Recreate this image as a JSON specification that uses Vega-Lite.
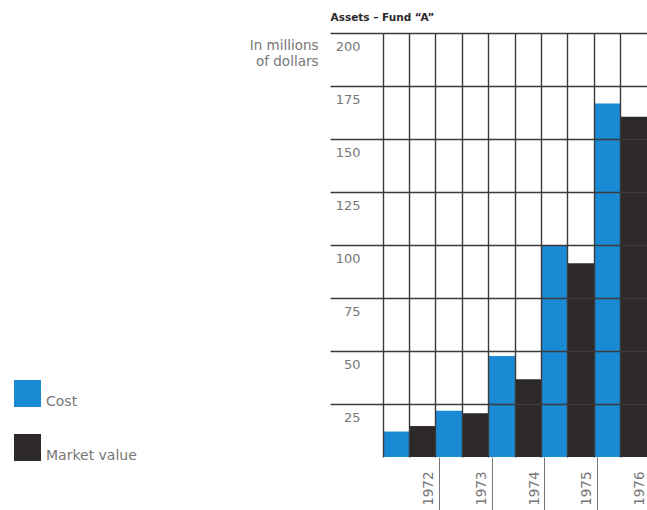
{
  "$schema": "https://vega.github.io/schema/vega-lite/v6.json",
  "width": 264,
  "height": 424,
  "autosize": {"type": "none"},
  "padding": {"left": 383, "top": 33, "right": 0, "bottom": 53},
  "background": "white",
  "config": {"view": {"stroke": null}, "font": "DejaVu Sans"},
  "data": {
    "values": [
      {"year": "1972", "series": "Cost", "value": 12},
      {"year": "1972", "series": "Market value", "value": 14.6},
      {"year": "1973", "series": "Cost", "value": 21.8},
      {"year": "1973", "series": "Market value", "value": 20.6},
      {"year": "1974", "series": "Cost", "value": 47.6},
      {"year": "1974", "series": "Market value", "value": 36.7},
      {"year": "1975", "series": "Cost", "value": 100},
      {"year": "1975", "series": "Market value", "value": 91.4},
      {"year": "1976", "series": "Cost", "value": 166.8},
      {"year": "1976", "series": "Market value", "value": 160.5}
    ]
  },
  "encoding": {
    "y": {
      "field": "value",
      "type": "quantitative",
      "scale": {"domain": [0, 200], "nice": false},
      "axis": {
        "values": [25, 50, 75, 100, 125, 150, 175, 200],
        "grid": true,
        "gridColor": "#3a3a3a",
        "gridWidth": 1.4,
        "domain": false,
        "ticks": true,
        "tickSize": 53,
        "tickColor": "#3a3a3a",
        "tickWidth": 1.4,
        "labelAlign": "right",
        "labelBaseline": "top",
        "labelPadding": -30,
        "labelOffset": 7,
        "labelFontSize": 13,
        "labelFont": "DejaVu Sans",
        "labelColor": "#777777",
        "title": ["In millions", "of dollars"],
        "titleAngle": 0,
        "titleAlign": "right",
        "titleBaseline": "top",
        "titleX": -65,
        "titleY": 5,
        "titleFont": "DejaVu Sans",
        "titleFontSize": 13.5,
        "titleFontWeight": "normal",
        "titleColor": "#777777",
        "titleLineHeight": 16,
        "zindex": 1
      }
    }
  },
  "layer": [
    {
      "mark": {"type": "bar"},
      "encoding": {
        "x": {
          "field": "year",
          "type": "nominal",
          "scale": {"paddingInner": 0, "paddingOuter": 0},
          "axis": {
            "bandPosition": 1,
            "tickOffset": 3,
            "grid": false,
            "domain": false,
            "ticks": true,
            "tickSize": 60,
            "tickColor": "#777777",
            "tickWidth": 1,
            "labelAngle": 270,
            "labelAlign": "right",
            "labelBaseline": "middle",
            "labelPadding": -46,
            "labelOffset": 16,
            "labelFontSize": 13.5,
            "labelFont": "DejaVu Sans",
            "labelColor": "#777777",
            "title": null
          }
        },
        "xOffset": {
          "field": "series",
          "type": "nominal",
          "sort": ["Cost", "Market value"],
          "scale": {"paddingInner": 0, "paddingOuter": 0}
        },
        "color": {
          "field": "series",
          "type": "nominal",
          "sort": ["Cost", "Market value"],
          "scale": {"range": ["#1a8ad4", "#2d2929"]},
          "legend": {
            "orient": "none",
            "legendX": -369,
            "legendY": 347,
            "title": null,
            "symbolType": "square",
            "symbolSize": 729,
            "symbolStrokeWidth": 0,
            "symbolOpacity": 1,
            "rowPadding": 25,
            "labelFontSize": 14,
            "labelFont": "DejaVu Sans",
            "labelColor": "#777777",
            "labelBaseline": "line-top",
            "labelLineHeight": 24,
            "labelOffset": 5,
            "padding": 0
          }
        }
      }
    },
    {
      "mark": {"type": "bar", "opacity": 0},
      "encoding": {
        "x": {
          "field": "year",
          "type": "nominal",
          "axis": {
            "orient": "top",
            "bandPosition": 0,
            "grid": true,
            "gridColor": "#3a3a3a",
            "gridWidth": 1.4,
            "domain": false,
            "ticks": false,
            "labels": false,
            "title": "Assets – Fund “A”",
            "titleAngle": 0,
            "titleAnchor": "start",
            "titleAlign": "left",
            "titleBaseline": "alphabetic",
            "titleX": -53,
            "titleY": -13,
            "titleFont": "DejaVu Sans",
            "titleFontSize": 10.5,
            "titleFontWeight": "bold",
            "titleColor": "#2a2a2a",
            "zindex": 1
          }
        }
      }
    },
    {
      "mark": {"type": "bar", "opacity": 0},
      "encoding": {
        "x": {
          "field": "year",
          "type": "nominal",
          "axis": {
            "orient": "top",
            "bandPosition": 0.5,
            "grid": true,
            "gridColor": "#3a3a3a",
            "gridWidth": 1.4,
            "domain": false,
            "ticks": false,
            "labels": false,
            "title": null,
            "zindex": 1
          }
        }
      }
    }
  ],
  "resolve": {"axis": {"x": "independent"}}
}
